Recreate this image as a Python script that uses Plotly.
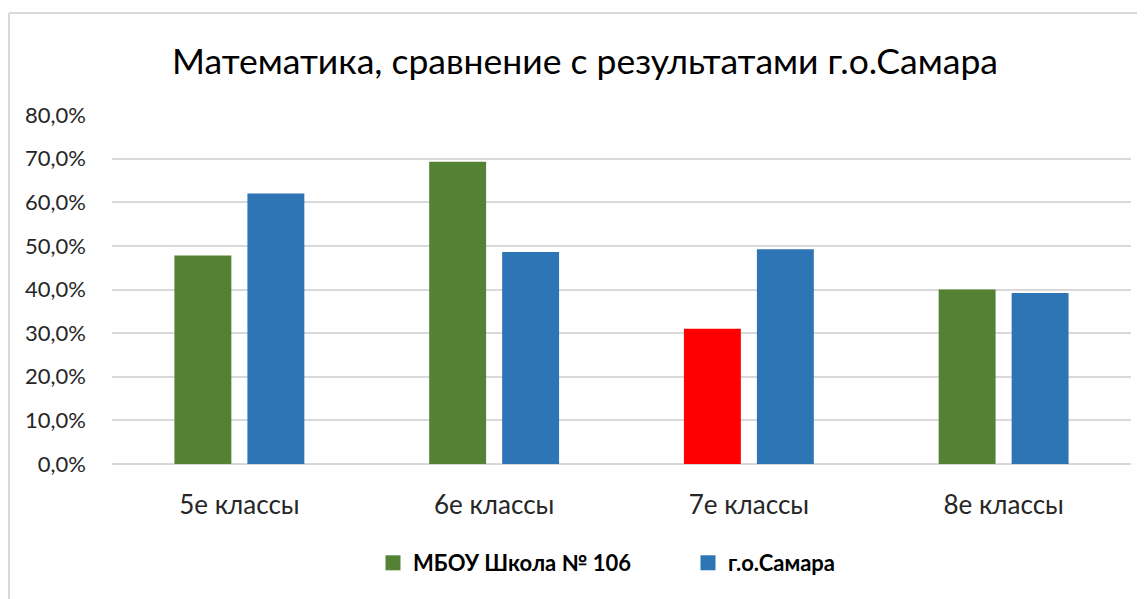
import plotly.graph_objects as go

categories = ["5е классы", "6е классы", "7е классы", "8е классы"]
school_values = [0.478, 0.693, 0.310, 0.400]
city_values = [0.620, 0.486, 0.492, 0.392]
school_colors = ["#548235", "#548235", "#ff0000", "#548235"]
city_color = "#2e75b6"
school_legend_color = "#548235"
series_names = ["МБОУ Школа № 106", "г.о.Самара"]
y_ticks = [0, 0.1, 0.2, 0.3, 0.4, 0.5, 0.6, 0.7, 0.8]

# page body has an 8px margin; work in figure coordinates
O = 8
W, H = 1145 - O, 599 - O
ml, mt = 112 - O, 115 - O
mr = W - (1131 - O)
mb = H - (464 - O)
pw, ph = W - ml - mr, H - mt - mb

fig = go.Figure()
fig.add_trace(go.Bar(
    x=categories, y=school_values, name=series_names[0], showlegend=False,
    marker=dict(color=school_colors, line=dict(width=0)),
))
fig.add_trace(go.Bar(
    x=categories, y=city_values, name=series_names[1], showlegend=False,
    marker=dict(color=city_color, line=dict(width=0)),
))
# legend entries with larger square keys
for nm, col in zip(series_names, [school_legend_color, city_color]):
    fig.add_trace(go.Scatter(
        x=[None], y=[None], mode="markers", name=nm,
        marker=dict(symbol="square", size=15, color=col),
    ))

font_family = "Lato, Open Sans, Noto Sans, sans-serif"

fig.update_layout(
    width=W, height=H,
    margin=dict(l=ml, r=mr, t=mt, b=mb),
    paper_bgcolor="white", plot_bgcolor="white",
    separators=", ",
    barmode="group", bargap=0.427, bargroupgap=0.22,
    title=dict(
        text="Математика, сравнение с результатами г.о.Самара",
        x=(585 - O) / W, xanchor="center", xref="container",
        y=1 - (62 - O) / H, yanchor="middle", yref="container",
        font=dict(family=font_family, size=35.5, color="#000000"),
    ),
    xaxis=dict(
        type="category",
        showgrid=False, showline=False, ticks="",
        tickfont=dict(family=font_family, size=26, color="#262626"),
        ticklabelstandoff=23,
    ),
    yaxis=dict(
        range=[0, 0.8], tickvals=y_ticks, tickformat=".1%",
        showgrid=True, gridcolor="#d9d9d9", gridwidth=1.5,
        zeroline=True, zerolinecolor="#d9d9d9", zerolinewidth=1.5,
        showline=False, ticks="",
        tickfont=dict(family=font_family, size=22, color="#262626"),
        ticklabelstandoff=25,
    ),
    legend=dict(
        orientation="h", x=(688 - O - ml) / pw, xanchor="center", xref="paper",
        y=1 - (563 - O) / H, yanchor="middle", yref="container",
        font=dict(family=font_family, size=22, color="#000000", weight="bold"),
        entrywidth=270, itemwidth=30,
    ),
    showlegend=True,
)

# chart area border (light gray), cut off at right/bottom like the reference
bx0 = (8 - O - ml) / pw + 1 / pw
by1 = 1 + (mt - (13 - O)) / ph
fig.add_shape(type="line", xref="paper", yref="paper",
              x0=bx0, x1=(W + 5 - ml) / pw, y0=by1, y1=by1,
              line=dict(color="#d9d9d9", width=2))
fig.add_shape(type="line", xref="paper", yref="paper",
              x0=bx0, x1=bx0, y0=by1, y1=-(mb + 5) / ph,
              line=dict(color="#d9d9d9", width=2))

fig.write_html("out.html")
